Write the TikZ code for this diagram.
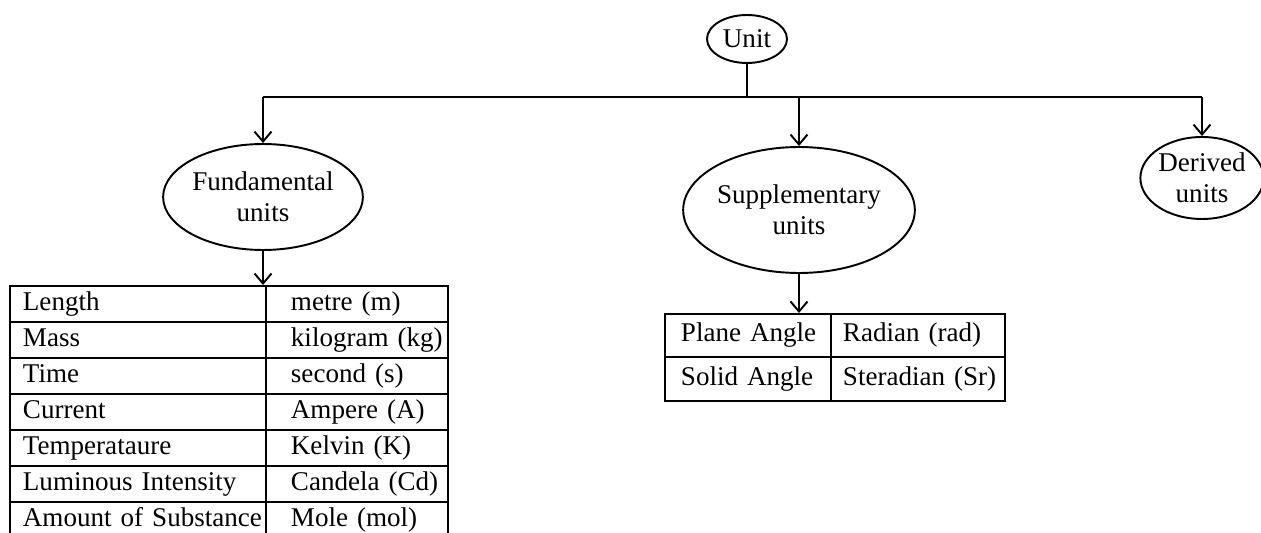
\documentclass[tikz,border=0pt]{standalone}
\usepackage{fontspec}
\setmainfont{Liberation Serif}
\usetikzlibrary{arrows.meta,positioning,shapes.geometric}

\begin{document}
\begin{tikzpicture}[x=0.02cm,y=-0.02cm,line width=1.1pt,>={Straight Barb[length=2mm,width=3.4mm]},
  every node/.style={font=\fontsize{15.4}{17.5}\selectfont},
  bubble/.style={draw,ellipse,inner sep=0pt,align=center},
  cell/.style args={#1/#2/#3}{draw,anchor=north west,align=left,inner xsep=0pt,inner ysep=0pt,
    text width=#1,minimum height=#3,execute at begin node={\hspace*{#2}\strut}}]
  \useasboundingbox (0,0) rectangle (1261,533);
  \clip (0,0) rectangle (1261,533);
  % top and the three kinds
  \node[bubble,minimum width=1.6cm,minimum height=0.96cm] (unit) at (747,39) {Unit};
  \node[bubble,minimum width=3.52cm,minimum height=2.12cm] (fund) at (263,197) {Fundamental\\units};
  \node[bubble,minimum width=4.04cm,minimum height=2.52cm] (sup) at (799,210) {Supplementary\\units};
  \node[bubble,minimum width=2.32cm,minimum height=1.64cm] (der) at (1202,178) {Derived\\units};
  % tables
  \foreach \q/\u [count=\i] in {Length/{metre (m)},Mass/{kilogram (kg)},Time/{second (s)},Current/{Ampere (A)},Temperataure/{Kelvin (K)},Luminous Intensity/{Candela (Cd)},Amount of Substance/{Mole (mol)}}{
    \node[cell=5.12cm/0.26cm/0.72cm] (fq\i) at (9,{285+36*(\i-1)}) {\q};
    \node[cell=3.64cm/0.5cm/0.72cm] (fu\i) at (265,{285+36*(\i-1)}) {\u};
  }
  \foreach \q/\u [count=\i] in {Plane Angle/{Radian (rad)},Solid Angle/{Steradian (Sr)}}{
    \node[cell=3.32cm/0.32cm/0.87cm] (sq\i) at (664,{313+43.5*(\i-1)}) {\q};
    \node[cell=3.48cm/0.24cm/0.87cm] (su\i) at (830,{313+43.5*(\i-1)}) {\u};
  }
  % connectors
  \coordinate (bus) at (747,97);
  \draw (unit) -- (bus);
  \draw (fund.north |- bus) -- (der.north |- bus);
  \draw[->] (fund.north |- bus) -- (fund.north);
  \draw[->] (bus -| sup.north) -- (sup.north);
  \draw[->] (der.north |- bus) -- (der.north);
  \draw[->] (fund) -- (fund.south |- fq1.north);
  \draw[->] (sup) -- (sup.south |- sq1.north);
\end{tikzpicture}
\end{document}
